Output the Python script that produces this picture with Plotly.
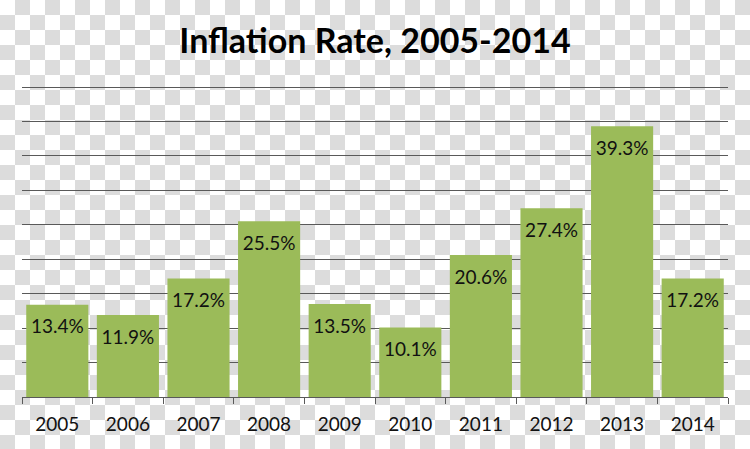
import base64
import plotly.graph_objects as go

years = ["2005", "2006", "2007", "2008", "2009", "2010", "2011", "2012", "2013", "2014"]
rates = [13.4, 11.9, 17.2, 25.5, 13.5, 10.1, 20.6, 27.4, 39.3, 17.2]
labels = ["13.4%", "11.9%", "17.2%", "25.5%", "13.5%", "10.1%", "20.6%", "27.4%", "39.3%", "17.2%"]

W, H = 750, 449
ML, MR, MT, MB = 22, 22, 85, 52
YMAX = 45.3

# checkerboard backdrop (transparency pattern) as SVG
sq = 15
svg = (
    f'<svg xmlns="http://www.w3.org/2000/svg" width="{W}" height="{H}">'
    f'<defs><pattern id="c" width="{2*sq}" height="{2*sq}" patternUnits="userSpaceOnUse">'
    f'<rect width="{2*sq}" height="{2*sq}" fill="#ffffff"/>'
    f'<rect x="{sq}" y="0" width="{sq}" height="{sq}" fill="#dcdcdc"/>'
    f'<rect x="0" y="{sq}" width="{sq}" height="{sq}" fill="#dcdcdc"/>'
    f'</pattern></defs><rect width="{W}" height="{H}" fill="url(#c)"/></svg>'
)
uri = "data:image/svg+xml;base64," + base64.b64encode(svg.encode()).decode()

pw, ph = W - ML - MR, H - MT - MB

fig = go.Figure()
fig.add_trace(go.Bar(
    x=years, y=rates, marker=dict(color="#9bbb59", line=dict(width=0)),
    hoverinfo="skip",
))
off = 24 / ph * YMAX
fig.add_trace(go.Scatter(
    x=years, y=[r - off for r in rates], text=labels, mode="text",
    textposition="middle center",
    textfont=dict(family="Lato", size=19, color="#111111"),
    hoverinfo="skip",
))

fig.update_layout(
    width=W, height=H,
    margin=dict(l=ML, r=MR, t=MT, b=MB),
    paper_bgcolor="rgba(0,0,0,0)", plot_bgcolor="rgba(0,0,0,0)",
    showlegend=False, bargap=0.12,
    title=dict(text="<b>Inflation Rate, 2005-2014</b>", x=0.5, xanchor="center",
               y=1 - 41 / H, yanchor="middle",
               font=dict(family="Lato", size=34, color="#000000")),
    xaxis=dict(type="category", showgrid=False, showline=False, ticks="outside",
               tickson="boundaries", ticklen=6, tickcolor="#595959",
               ticklabelstandoff=14,
               tickfont=dict(family="Lato", size=19, color="#111111"),
               zeroline=False),
    yaxis=dict(range=[0, YMAX], dtick=5, showgrid=True, gridcolor="#595959",
               gridwidth=1, showticklabels=False, zeroline=True,
               zerolinecolor="#595959", zerolinewidth=1, showline=False),
    images=[dict(source=uri, xref="paper", yref="paper",
                 x=-ML / pw, y=1 + MT / ph, sizex=W / pw, sizey=H / ph,
                 xanchor="left", yanchor="top", sizing="stretch", layer="below")],
)

fig.write_html("out.html")
